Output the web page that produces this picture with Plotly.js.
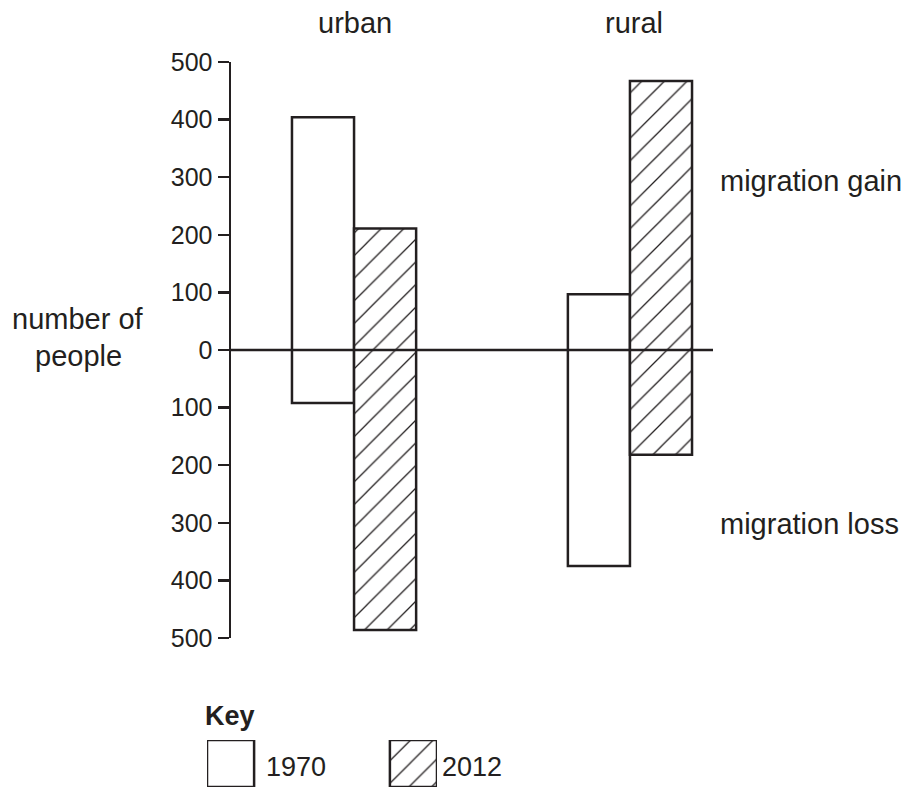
<!DOCTYPE html>
<html>
<head>
<meta charset="utf-8">
<script src="https://cdn.plot.ly/plotly-3.0.1.min.js"></script>
<style>html,body{margin:0;padding:0;background:#fff;}#chart{width:908px;height:792px;}</style>
</head>
<body>
<div id="chart"></div>
<script>
const categories = ['urban', 'rural'];
const years = ['1970', '2012'];
const top1970 = [404, 97];
const bottom1970 = [-92, -375];
const top2012 = [211, 467];
const bottom2012 = [-486, -182];
const yTickVals = [-500, -400, -300, -200, -100, 0, 100, 200, 300, 400, 500];
const yTickText = ['500', '400', '300', '200', '100', '0', '100', '200', '300', '400', '500'];

const W = 908, H = 792;
const px = v => v / W;
const py = v => 1 - v / H;
const FONT = 'Liberation Sans, Arial, sans-serif';
const FS = 29;
const ink = '#231f20';

const hatch = {shape: '/', fgcolor: ink, bgcolor: '#ffffff', size: 16, solidity: 0.08, fillmode: 'replace'};

const traces = [
  {
    type: 'bar', name: years[0], x: categories,
    y: top1970.map((t, i) => t - bottom1970[i]), base: bottom1970,
    marker: {color: '#ffffff', line: {color: ink, width: 2.5}},
    showlegend: false, hoverinfo: 'skip'
  },
  {
    type: 'bar', name: years[1], x: categories,
    y: top2012.map((t, i) => t - bottom2012[i]), base: bottom2012,
    marker: {color: '#ffffff', pattern: hatch, line: {color: ink, width: 2.5}},
    showlegend: false, hoverinfo: 'skip'
  },
  // key swatches
  {
    type: 'bar', x: [0], y: [1], base: [0], width: [0.2575], xaxis: 'x2', yaxis: 'y2',
    marker: {color: '#ffffff', line: {color: ink, width: 2.5}}, showlegend: false, hoverinfo: 'skip'
  },
  {
    type: 'bar', x: [1], y: [1], base: [0], width: [0.2575], xaxis: 'x2', yaxis: 'y2',
    marker: {color: '#ffffff', pattern: hatch, line: {color: ink, width: 2.5}}, showlegend: false, hoverinfo: 'skip'
  }
];

const ann = (text, x, y, xanchor, size, extra) => Object.assign({
  text: text, xref: 'paper', yref: 'paper', x: px(x), y: py(y),
  xanchor: xanchor, yanchor: 'middle', showarrow: false,
  font: {family: FONT, size: size, color: ink}
}, extra || {});

const layout = {
  width: W, height: H,
  margin: {l: 0, r: 0, t: 0, b: 0},
  paper_bgcolor: '#ffffff', plot_bgcolor: '#ffffff',
  barmode: 'group', bargap: 0.55, bargroupgap: 0,
  showlegend: false,
  xaxis: {
    type: 'category', domain: [px(231), px(713)], range: [-0.446, 1.301],
    showticklabels: false, showline: false, showgrid: false, zeroline: false, ticks: ''
  },
  yaxis: {
    domain: [py(638), py(62)], range: [-500, 500],
    tickvals: yTickVals, ticktext: yTickText,
    ticks: 'outside', ticklen: 11, tickwidth: 2.5, tickcolor: ink,
    showline: true, linewidth: 2.5, linecolor: ink,
    showgrid: false, zeroline: false,
    tickfont: {family: FONT, size: 25, color: ink}
  },
  xaxis2: {
    domain: [px(207), px(437)], range: [-0.1288, 1.1288], anchor: 'y2',
    visible: false, fixedrange: true
  },
  yaxis2: {
    domain: [py(787), py(740)], range: [0, 1], anchor: 'x2',
    visible: false, fixedrange: true
  },
  shapes: [
    {type: 'line', xref: 'x domain', yref: 'y', x0: 0, x1: 1, y0: 0, y1: 0,
     line: {color: ink, width: 2.5}, layer: 'above'}
  ],
  annotations: [
    Object.assign(ann(categories[0], 0, 23, 'center', FS), {xref: 'x', x: 0, xshift: 1}),
    Object.assign(ann(categories[1], 0, 23, 'center', FS), {xref: 'x', x: 1, xshift: 4}),
    ann('number of', 78, 319, 'center', FS),
    ann('people', 78, 356, 'center', FS),
    ann('migration gain', 718, 181, 'left', FS),
    ann('migration loss', 718, 524, 'left', FS),
    ann('<b>Key</b>', 203, 716, 'left', 27),
    ann(years[0], 264, 767, 'left', 27),
    ann(years[1], 440, 767, 'left', 27)
  ]
};

Plotly.newPlot('chart', traces, layout, {displayModeBar: false, staticPlot: true});
</script>
</body>
</html>
